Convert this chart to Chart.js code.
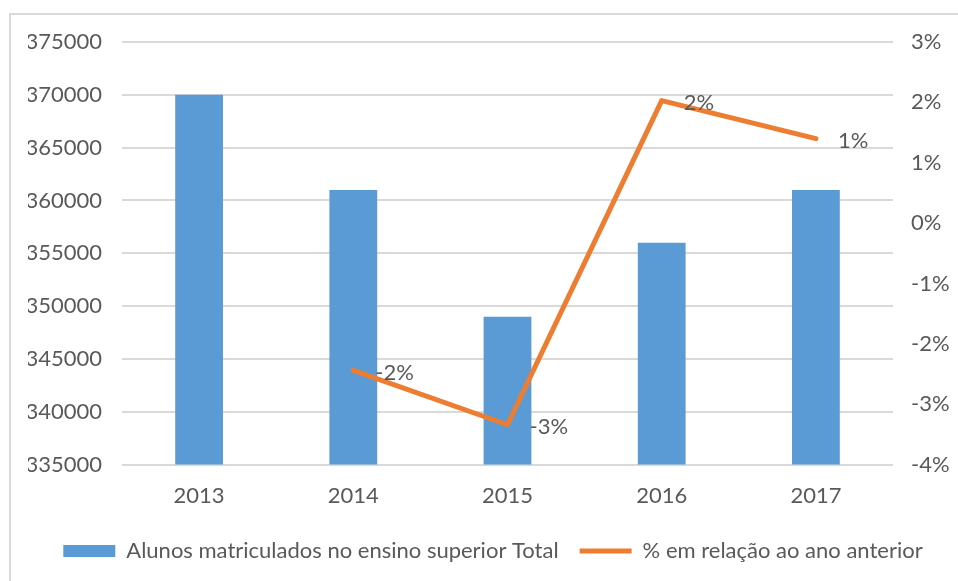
<!DOCTYPE html>
<html>
<head>
<meta charset="utf-8">
<script src="https://cdn.jsdelivr.net/npm/chart.js@4.4.1/dist/chart.umd.min.js"></script>
<style>
  body { margin: 0; background: #fff; }
  #frame { position: absolute; left: 9px; top: 13px; width: 1000px; height: 600px; border: 2px solid #d9d9d9; box-sizing: border-box; }
  #wrap { position: absolute; left: 0; top: 0; width: 958px; height: 581px; }
</style>
</head>
<body>
<div id="frame"></div>
<div id="wrap"><canvas id="chart" width="958" height="581"></canvas></div>
<script>
// data
const years = ['2013', '2014', '2015', '2016', '2017'];
const enrolled = [370000, 361000, 349000, 356000, 361000];
const changePct = [null, -2.44, -3.34, 2.03, 1.4];

const barLabel = 'Alunos matriculados no ensino superior Total';
const lineLabel = '% em relação ao ano anterior';

const TXT = '#595959';
const FONT = 'Lato';
const FSIZE = 22;

// little plugin for the % labels next to the line points
const pointLabels = {
    id: 'pointLabels',
    afterDatasetsDraw(chart) {
        const ctx = chart.ctx;
        const meta = chart.getDatasetMeta(1);
        ctx.save();
        ctx.font = FSIZE + 'px ' + FONT;
        ctx.fillStyle = TXT;
        ctx.textAlign = 'left';
        ctx.textBaseline = 'middle';
        meta.data.forEach((pt, i) => {
            const v = changePct[i];
            if (v === null) return;
            ctx.fillText(Math.round(v) + '%', pt.x + 22, pt.y + 2);
        });
        ctx.restore();
    }
};

const ctx = document.getElementById('chart').getContext('2d');
const chart = new Chart(ctx, {
    type: 'bar',
    data: {
        labels: years,
        datasets: [{
            type: 'bar',
            label: barLabel,
            data: enrolled,
            backgroundColor: '#5b9bd5',
            borderWidth: 0,
            yAxisID: 'y',
            categoryPercentage: 1,
            barPercentage: 0.31,
            pointStyle: 'rect',
            order: 2
        }, {
            type: 'line',
            label: lineLabel,
            data: changePct,
            borderColor: '#ed7d31',
            backgroundColor: '#ed7d31',
            borderWidth: 5,
            borderCapStyle: 'round',
            borderJoinStyle: 'round',
            pointRadius: 0,
            pointStyle: 'line',
            tension: 0,
            yAxisID: 'y1',
            order: 1
        }]
    },
    options: {
        responsive: false,
        animation: false,
        layout: {
            padding: { left: 28, right: 0, top: 42, bottom: 9 }
        },
        plugins: {
            tooltip: { enabled: false },
            legend: {
                position: 'bottom',
                labels: {
                    usePointStyle: true,
                    pointStyleWidth: 52,
                    boxHeight: 12,
                    color: TXT,
                    font: { family: FONT, size: FSIZE },
                    padding: 21,
                    sort: (a, b) => a.datasetIndex - b.datasetIndex
                }
            }
        },
        scales: {
            x: {
                grid: { display: false },
                border: { display: false },
                ticks: { color: TXT, font: { family: FONT, size: FSIZE }, padding: 10 }
            },
            y: {
                position: 'left',
                min: 335000,
                max: 375000,
                grid: { color: '#d9d9d9', lineWidth: 2, drawTicks: false },
                border: { display: false },
                ticks: {
                    stepSize: 5000,
                    color: TXT,
                    font: { family: FONT, size: FSIZE },
                    padding: 20,
                    callback: v => String(v)
                },
                afterFit(axis) { axis.width = 94; }
            },
            y1: {
                position: 'right',
                min: -4,
                max: 3,
                grid: { display: false },
                border: { display: false },
                ticks: {
                    stepSize: 1,
                    color: TXT,
                    font: { family: FONT, size: FSIZE },
                    padding: 10,
                    callback: v => v + '%'
                },
                afterFit(axis) { axis.width = 65; }
            }
        }
    },
    plugins: [pointLabels]
});
</script>
</body>
</html>
